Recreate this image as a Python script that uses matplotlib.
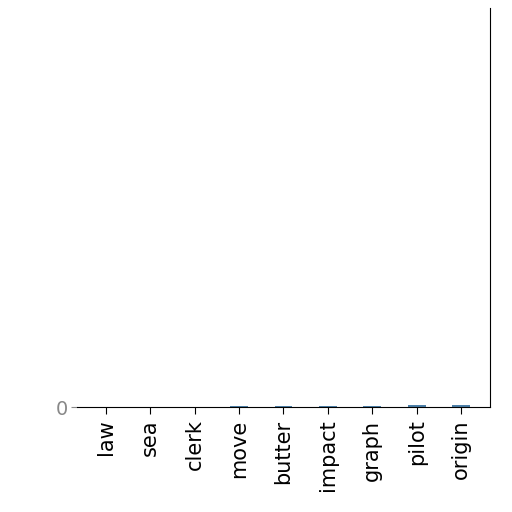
import matplotlib
matplotlib.use("Agg")
import matplotlib.pyplot as plt

categories = ["law", "sea", "clerk", "move", "butter", "impact", "graph", "pilot", "origin"]
values = [0.05, 0.05, 0.1, 0.15, 0.25, 0.3, 0.35, 0.45, 0.5]
y_ticks = [0]

fig = plt.figure(figsize=(5.12, 5.12), dpi=100)
ax = fig.add_axes([0.15, 0.205, 0.807, 0.78])
ax.bar(range(len(categories)), values, width=0.4, color="#4c7fa8")
ax.set_xlim(-0.65, len(categories) - 0.35)
ax.set_ylim(0, 100)
ax.set_yticks(y_ticks)
ax.set_yticklabels([str(t) for t in y_ticks], color="#888888", fontsize=14)
ax.set_xticks(range(len(categories)))
ax.set_xticklabels(categories, rotation=90, fontsize=15)
ax.spines["top"].set_visible(False)
ax.spines["left"].set_visible(False)
ax.tick_params(axis="x", length=5, pad=4)
ax.tick_params(axis="y", length=4, color="#888888", pad=2)
fig.savefig("out.png", dpi=100)
